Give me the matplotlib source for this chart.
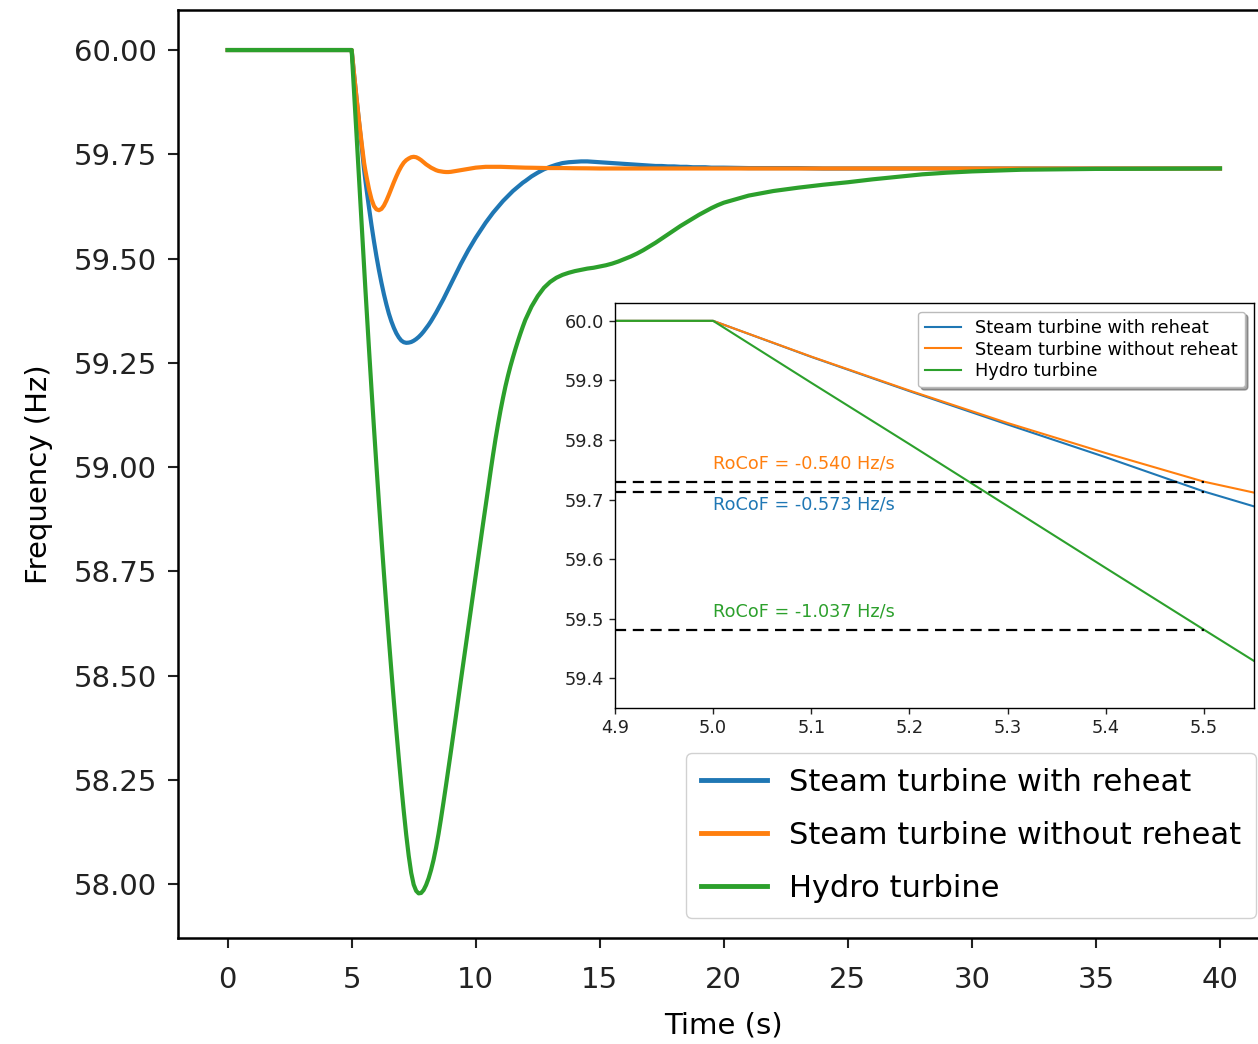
import matplotlib
matplotlib.use("Agg")
import matplotlib.pyplot as plt

plt.rcParams["font.family"] = "DejaVu Sans"

# Simulated frequency response after a load step at t = 5 s
time_s = [0, 4.9, 5.0, 5.1, 5.2, 5.3, 5.4, 5.5, 5.55,
          5.6, 5.7, 5.8, 5.9, 6.0, 6.1, 6.2, 6.3, 6.4, 6.5,
          6.6, 6.7, 6.8, 6.9, 7.0, 7.1, 7.2, 7.3, 7.4, 7.5,
          7.6, 7.7, 7.8, 7.9, 8.0, 8.1, 8.2, 8.3, 8.4, 8.5,
          8.6, 8.7, 8.8, 8.9, 9.0, 9.1, 9.2, 9.3, 9.4, 9.5,
          9.6, 9.7, 9.8, 9.9, 10.0, 10.1, 10.2, 10.3, 10.4, 10.5,
          10.6, 10.7, 10.8, 10.9, 11.0, 11.1, 11.2, 11.3, 11.4, 11.5,
          11.6, 11.7, 11.8, 11.9, 12.0,
          12.25, 12.5, 12.75, 13.0, 13.25, 13.5, 13.75, 14.0, 14.25, 14.5, 14.75, 15.0,
          15.25, 15.5, 15.75, 16.0, 16.25, 16.5, 16.75, 17.0, 17.25, 17.5, 17.75, 18.0,
          18.25, 18.5, 18.75, 19.0, 19.25, 19.5, 19.75, 20.0,
          21, 22, 23, 24, 25, 26, 27, 28, 29, 30, 32, 35, 40]

freq_reheat = [60.0, 60.0, 60.0, 59.9395, 59.882, 59.826, 59.771, 59.7135, 59.689,
               59.666, 59.6215, 59.580, 59.541, 59.505, 59.472, 59.442, 59.4145, 59.390, 59.368,
               59.3495, 59.334, 59.321, 59.311, 59.3035, 59.2995, 59.298, 59.2985, 59.300, 59.303,
               59.307, 59.312, 59.318, 59.325, 59.333, 59.341, 59.350, 59.360, 59.370, 59.381,
               59.392, 59.403, 59.415, 59.427, 59.439, 59.451, 59.463, 59.475, 59.487, 59.498,
               59.509, 59.520, 59.530, 59.540, 59.550, 59.559, 59.568, 59.577, 59.586, 59.594,
               59.602, 59.610, 59.617, 59.624, 59.631, 59.638, 59.644, 59.650, 59.656, 59.662,
               59.667, 59.672, 59.677, 59.682, 59.686,
               59.697, 59.706, 59.714, 59.720, 59.725, 59.729, 59.731, 59.732, 59.733, 59.733, 59.732, 59.731,
               59.730, 59.729, 59.728, 59.727, 59.726, 59.725, 59.724, 59.723, 59.722, 59.722, 59.721, 59.721,
               59.720, 59.720, 59.719, 59.719, 59.719, 59.718, 59.718, 59.718,
               59.717, 59.717, 59.717, 59.716, 59.716, 59.716, 59.716, 59.716, 59.716, 59.716,
               59.716, 59.716, 59.716]

freq_nonreheat = [60.0, 60.0, 60.0, 59.940, 59.883, 59.8285, 59.778, 59.730, 59.712,
                  59.696, 59.666, 59.642, 59.626, 59.618, 59.616, 59.619, 59.627, 59.639, 59.653,
                  59.668, 59.683, 59.697, 59.710, 59.721, 59.730, 59.736, 59.740, 59.743, 59.744,
                  59.743, 59.740, 59.736, 59.731, 59.726, 59.722, 59.718, 59.715, 59.712, 59.710,
                  59.709, 59.708, 59.7075, 59.7075, 59.708, 59.709, 59.710, 59.711, 59.712, 59.713,
                  59.714, 59.715, 59.716, 59.717, 59.718, 59.7185, 59.719, 59.7195, 59.720, 59.720,
                  59.720, 59.720, 59.720, 59.720, 59.720, 59.7198, 59.7196, 59.7194, 59.7192, 59.719,
                  59.7188, 59.7186, 59.7184, 59.7182, 59.718,
                  59.7178, 59.7175, 59.7172, 59.717, 59.717, 59.717, 59.7168, 59.7166, 59.7165, 59.7164, 59.7162, 59.716,
                  59.716, 59.716, 59.716, 59.716, 59.716, 59.716, 59.716, 59.716, 59.716, 59.716, 59.716, 59.716,
                  59.716, 59.716, 59.716, 59.716, 59.716, 59.716, 59.716, 59.716,
                  59.716, 59.716, 59.716, 59.716, 59.716, 59.716, 59.716, 59.716, 59.716, 59.716,
                  59.716, 59.716, 59.716]

freq_hydro = [60.0, 60.0, 60.0, 59.896, 59.793, 59.689, 59.585, 59.4815, 59.430,
              59.3805, 59.282, 59.186, 59.093, 59.002, 58.914, 58.8285, 58.7455, 58.665, 58.587,
              58.512, 58.439, 58.369, 58.3015, 58.2365, 58.175, 58.118, 58.068, 58.027, 57.999,
              57.984, 57.978, 57.979, 57.986, 57.998, 58.014, 58.034, 58.058, 58.087, 58.120,
              58.157, 58.196, 58.236, 58.277, 58.318, 58.360, 58.402, 58.445, 58.488, 58.530,
              58.572, 58.614, 58.656, 58.698, 58.740, 58.782, 58.824, 58.866, 58.907, 58.948,
              58.990, 59.030, 59.068, 59.103, 59.136, 59.166, 59.194, 59.219, 59.242, 59.263,
              59.283, 59.302, 59.320, 59.337, 59.353,
              59.385, 59.410, 59.430, 59.444, 59.454, 59.461, 59.466, 59.470, 59.473, 59.476, 59.478, 59.481,
              59.484, 59.488, 59.493, 59.499, 59.505, 59.512, 59.520, 59.529, 59.538, 59.548, 59.558, 59.568,
              59.578, 59.587, 59.596, 59.605, 59.613, 59.621, 59.628, 59.634,
              59.651, 59.662, 59.670, 59.677, 59.683, 59.690, 59.696, 59.702, 59.706, 59.709,
              59.713, 59.715, 59.716]

series_labels = ["Steam turbine with reheat",
                 "Steam turbine without reheat",
                 "Hydro turbine"]
series_colors = ["#1f77b4", "#ff7f0e", "#2ca02c"]
series_values = [freq_reheat, freq_nonreheat, freq_hydro]

# Rate of change of frequency over the first half second after the event
rocof_values = [-0.573, -0.540, -1.037]
t_event = 5.0
rocof_window = 0.5
f_nominal = 60.0

main_yticks = [58.00, 58.25, 58.50, 58.75, 59.00, 59.25, 59.50, 59.75, 60.00]
main_xticks = [0, 5, 10, 15, 20, 25, 30, 35, 40]
zoom_xticks = [4.9, 5.0, 5.1, 5.2, 5.3, 5.4, 5.5]
zoom_yticks = [59.4, 59.5, 59.6, 59.7, 59.8, 59.9, 60.0]

W, H = 1258, 1044
fig = plt.figure(figsize=(W / 100, H / 100), dpi=100)

# ---- main axes ----
ax = fig.add_axes([178 / W, 1 - 938 / H, (1269.6 - 178) / W, 928 / H])
for vals, col, lab in zip(series_values, series_colors, series_labels):
    ax.plot(time_s, vals, color=col, lw=3.0, label=lab)
ax.set_xlim(-2, 42)
ax.set_ylim(57.871, 60.096)
ax.set_xticks(main_xticks)
ax.set_xticklabels([f"{v:d}" for v in main_xticks])
ax.set_yticks(main_yticks)
ax.set_yticklabels([f"{v:.2f}" for v in main_yticks])
ax.tick_params(axis="both", labelsize=21, length=7, width=1.5, colors="#222222")
ax.tick_params(axis="x", pad=13)
ax.tick_params(axis="y", pad=8)
for sp in ax.spines.values():
    sp.set_linewidth(1.8)
ax.set_xlabel("Time (s)", fontsize=21, labelpad=13)
ax.set_ylabel("Frequency (Hz)", fontsize=21, labelpad=15)

leg = ax.legend(loc="lower right", bbox_to_anchor=(0.9875, 0.0216), borderaxespad=0,
                fontsize=22, labelspacing=0.78, borderpad=0.5, handlelength=2.15,
                handletextpad=0.72, fancybox=True, framealpha=0.9, edgecolor="#cccccc")
for ln in leg.get_lines():
    ln.set_linewidth(3.5)

# ---- zoomed inset around the event ----
axin = fig.add_axes([615 / W, 1 - 708 / H, (1254 - 615) / W, (708 - 303) / H])
for vals, col, lab in zip(series_values, series_colors, series_labels):
    axin.plot(time_s, vals, color=col, lw=1.5, label=lab)
zoom_xlim = (4.9, 5.551)
axin.set_xlim(*zoom_xlim)
axin.set_ylim(59.35, 60.03)
axin.set_xticks(zoom_xticks)
axin.set_xticklabels([f"{v:.1f}" for v in zoom_xticks])
axin.set_yticks(zoom_yticks)
axin.set_yticklabels([f"{v:.1f}" for v in zoom_yticks])
axin.tick_params(axis="both", labelsize=12.8, length=4, width=1, pad=4, colors="#222222")
for sp in axin.spines.values():
    sp.set_linewidth(1.0)

text_offsets = [-0.022, 0.03, 0.03]
for r, col, dy in zip(rocof_values, series_colors, text_offsets):
    f_end = f_nominal + r * rocof_window
    axin.hlines(f_end, zoom_xlim[0], t_event + rocof_window, colors="black",
                linestyles=(0, (5, 3)), lw=1.6)
    axin.text(t_event, f_end + dy, f"RoCoF = {r:.3f} Hz/s", color=col,
              fontsize=12.7, ha="left", va="center")

axin.legend(loc="upper right", fontsize=12.8, labelspacing=0.2, handlelength=2.0,
            borderaxespad=0.5, fancybox=True, shadow=True, framealpha=1.0,
            edgecolor="#bbbbbb")

fig.savefig("out.png", dpi=100)
